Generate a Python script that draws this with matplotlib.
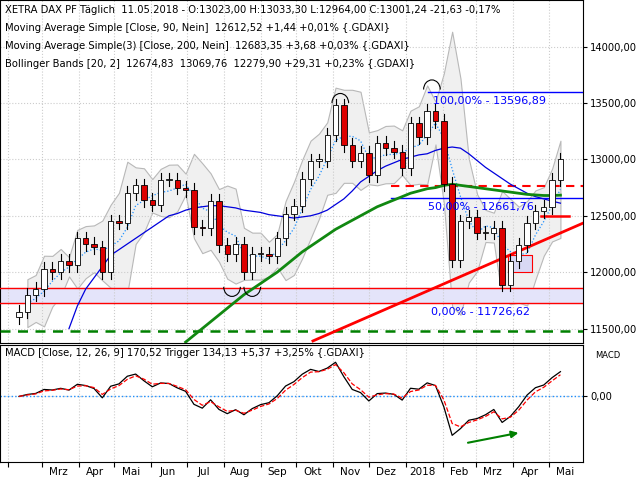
import matplotlib.pyplot as plt
import matplotlib.dates as mdates
from matplotlib.patches import Arc
import numpy as np
import pandas as pd

# weekly closes (Feb 2017 - May 2018)
closes = [11650, 11800, 11850, 12030, 12000, 12100, 12060, 12300, 12250, 12220,
          12000, 12450, 12440, 12700, 12770, 12640, 12600, 12820, 12820, 12750,
          12730, 12400, 12390, 12630, 12240, 12160, 12250, 12000, 12160, 12160,
          12140, 12300, 12520, 12590, 12830, 12990, 12990, 13220, 13480, 13130,
          12990, 13060, 12860, 13150, 13100, 13070, 12920, 13320, 13200, 13430,
          13340, 12780, 12110, 12450, 12490, 12350, 12350, 12390, 11890, 12100,
          12240, 12440, 12540, 12580, 12820, 13000]
# moving averages, values for the latest weeks (earlier weeks have none)
ma90_vals = [11500, 11700, 11850, 11950, 12050, 12150, 12200, 12250, 12300,
             12350, 12400, 12450, 12500, 12520, 12550, 12570, 12580, 12590, 12590, 12580,
             12570, 12550, 12540, 12530, 12510, 12500, 12490, 12480, 12490, 12500, 12520,
             12550, 12600, 12650, 12720, 12800, 12850, 12900, 12940, 12970, 13000, 13020,
             13040, 13050, 13080, 13100, 13110, 13100, 13050, 12990, 12930, 12880, 12830,
             12780, 12740, 12700, 12670, 12650, 12630, 12612]
ma200_vals = [11380, 11440, 11500, 11560, 11620, 11680, 11740, 11800, 11850, 11900, 11950,
              12000, 12060, 12120, 12180, 12230, 12280, 12330, 12380, 12420, 12460, 12500,
              12540, 12580, 12610, 12640, 12670, 12700, 12720, 12740, 12750, 12770, 12780,
              12770, 12760, 12750, 12740, 12730, 12720, 12710, 12700, 12690, 12685, 12680,
              12680, 12683]
month_labels = ['Mrz', 'Apr', 'Mai', 'Jun', 'Jul', 'Aug', 'Sep', 'Okt', 'Nov', 'Dez',
                '2018', 'Feb', 'Mrz', 'Apr', 'Mai']
price_ticks = [11500, 12000, 12500, 13000, 13500, 14000]

n = len(closes)
ma90 = [np.nan] * (n - len(ma90_vals)) + ma90_vals
ma200 = [np.nan] * (n - len(ma200_vals)) + ma200_vals
dates = pd.date_range('2017-02-10', periods=n, freq='W-FRI')
c = pd.Series(closes, index=dates, dtype=float)
opens = c.shift(1).fillna(11600)

fig = plt.figure(figsize=(6.4, 4.8), dpi=100)
ax = fig.add_axes([0.0, 0.285, 0.911, 0.715])
mx = fig.add_axes([0.0, 0.0375, 0.911, 0.244], sharex=ax)

# Bollinger bands (4-week window)
mid = c.rolling(4, min_periods=2).mean()
sd = c.rolling(4, min_periods=2).std()
ax.fill_between(dates, mid - 2 * sd, mid + 2 * sd, color='#f0f0f0', edgecolor='#b8b8b8', lw=0.8, zorder=1)
ax.plot(dates, mid, color='#1e90ff', ls=':', lw=0.9, zorder=2)

# levels
ax.axhspan(11726.62, 11860, color='#e4e4fa', zorder=1)
ax.axhline(11860, color='red', lw=1, zorder=3)
ax.axhline(11726.62, color='red', lw=1, zorder=3)
ax.axhline(11480, color='green', lw=1.8, ls=(0, (4, 3)), zorder=3)
x0 = mdates.date2num(pd.Timestamp('2018-01-26'))
x1 = mdates.date2num(pd.Timestamp('2018-05-30'))
ax.plot([mdates.date2num(pd.Timestamp('2017-12-20')), x1], [12760, 12760], color='red', lw=1.5, ls=(0, (4, 3)), zorder=3)
ax.plot([mdates.date2num(pd.Timestamp('2018-01-20')), x1], [13596.89, 13596.89], color='blue', lw=1, zorder=3)
ax.plot([mdates.date2num(pd.Timestamp('2017-12-20')), x1], [12661.76, 12661.76], color='blue', lw=1, zorder=3)
ax.plot([mdates.date2num(pd.Timestamp('2018-04-25')), mdates.date2num(pd.Timestamp('2018-05-18'))], [12500, 12500], color='red', lw=1.8, zorder=3)
ax.fill_between([mdates.date2num(pd.Timestamp('2018-03-28')), mdates.date2num(pd.Timestamp('2018-04-17'))],
                12000, 12150, color='#d8d8f4', edgecolor='red', lw=0.8, zorder=3)
ax.plot([mdates.date2num(pd.Timestamp('2017-10-15')), x1], [11390, 12435], color='red', lw=2, zorder=4)
ax.text(x0 - 2, 13560, '100,00% - 13596,89', color='blue', fontsize=8, va='top', zorder=6)
ax.text(x0 - 6, 12625, '50,00% - 12661,76', color='blue', fontsize=8, va='top', zorder=6)
ax.text(x0 - 4, 11690, '0,00% - 11726,62', color='blue', fontsize=8, va='top', zorder=6)

# moving averages
ax.plot(dates, ma90, color='#0000dd', lw=0.9, zorder=4)
ax.plot(dates, ma200, color='#118811', lw=2, zorder=4)

# candles
w = 4.5
for d, o, cl in zip(dates, opens, c):
    xd = mdates.date2num(d)
    hi, lo = max(o, cl) + 60, min(o, cl) - 60
    ax.plot([xd, xd], [lo, hi], color='black', lw=0.8, zorder=5)
    ax.bar(xd, abs(cl - o) or 10, bottom=min(o, cl), width=w,
           color='white' if cl >= o else '#dd0000', edgecolor='black', lw=0.6, zorder=5)

# arcs at tops/bottoms
for day, y, t1, t2 in [('2017-11-07', 13500, 0, 180), ('2018-01-23', 13620, 0, 180),
                       ('2017-08-08', 11870, 180, 360), ('2017-08-25', 11870, 180, 360)]:
    ax.add_patch(Arc((mdates.date2num(pd.Timestamp(day)), y), 14, 170, theta1=t1, theta2=t2,
                     color='black', lw=0.8, zorder=6))

ax.set_ylim(11370, 14414)
ax.set_xlim(pd.Timestamp('2017-01-25'), pd.Timestamp('2018-05-30'))
ax.yaxis.tick_right()
ax.set_yticks(price_ticks)
ax.set_yticklabels([f'{v:.2f}'.replace('.', ',') for v in price_ticks], fontsize=7.2)
ax.tick_params(axis='y', pad=2, length=3)
ax.grid(True, color='#cccccc', ls=':', lw=0.8)
ax.tick_params(axis='x', which='both', labelbottom=False, length=0)
hdr = ['XETRA DAX PF Täglich  11.05.2018 - O:13023,00 H:13033,30 L:12964,00 C:13001,24 -21,63 -0,17%',
       'Moving Average Simple [Close, 90, Nein]  12612,52 +1,44 +0,01% {.GDAXI}',
       'Moving Average Simple(3) [Close, 200, Nein]  12683,35 +3,68 +0,03% {.GDAXI}',
       'Bollinger Bands [20, 2]  12674,83  13069,76  12279,90 +29,31 +0,23% {.GDAXI}']
for i, t in enumerate(hdr):
    ax.text(0.008, 0.985 - i * 0.052, t, transform=ax.transAxes, fontsize=7.2, va='top', zorder=7)

# MACD
e1 = c.ewm(span=3).mean()
e2 = c.ewm(span=6).mean()
macd = e1 - e2
trig = macd.ewm(span=2).mean()
mx.axhline(0, color='#1e90ff', ls=':', lw=1)
mx.plot(dates, macd, color='black', lw=0.9)
mx.plot(dates, trig, color='red', lw=0.9, ls='--')
mx.annotate('', xy=(pd.Timestamp('2018-04-08'), -230), xytext=(pd.Timestamp('2018-02-20'), -300),
            arrowprops=dict(arrowstyle='-|>', color='green', lw=1.5))
mx.yaxis.tick_right()
mx.set_yticks([0])
mx.set_yticklabels(['0,00'], fontsize=7.2)
mx.tick_params(axis='y', pad=2, length=3)
mx.set_ylim(-420, 330)
mx.grid(True, color='#cccccc', ls=':', lw=0.8)
mx.text(0.008, 0.97, 'MACD [Close, 12, 26, 9] 170,52 Trigger 134,13 +5,37 +3,25% {.GDAXI}',
        transform=mx.transAxes, fontsize=7.2, va='top')
mx.text(1.02, 0.95, 'MACD', transform=mx.transAxes, fontsize=6, va='top')
mx.xaxis.set_major_locator(mdates.MonthLocator())
mx.xaxis.set_major_formatter(plt.NullFormatter())
mids = pd.date_range('2017-03-01', periods=len(month_labels), freq='MS') + pd.Timedelta(days=14)
mx.set_xticks(mids, minor=True)
mx.set_xticklabels(month_labels, minor=True, fontsize=7.5)
mx.tick_params(axis='x', which='minor', length=0)
mx.set_xlim(pd.Timestamp('2017-01-25'), pd.Timestamp('2018-05-30'))

fig.savefig('out.png', dpi=100)
